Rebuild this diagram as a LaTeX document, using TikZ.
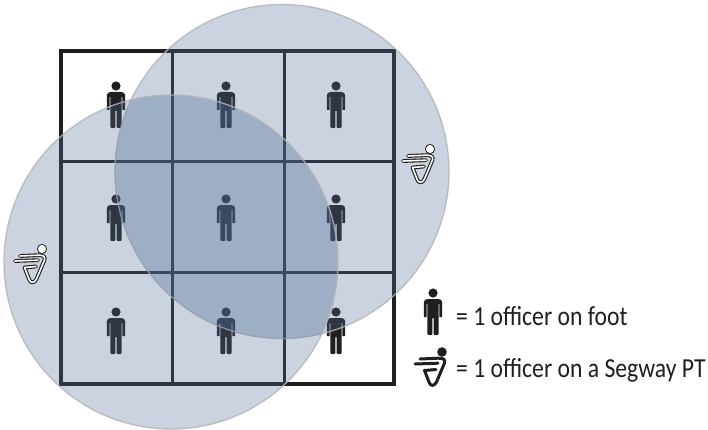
\documentclass[tikz,border=0pt]{standalone}
\usepackage{fontspec}
\setmainfont[FakeStretch=0.86]{Carlito}
\definecolor{ink}{RGB}{32,30,31}
\definecolor{zonefill}{RGB}{80,110,150}
\definecolor{zoneedge}{RGB}{178,180,184}
\definecolor{overlaptone}{RGB}{70,110,170}
\tikzset{
  gridline/.style={draw=ink,line width=3pt},
  zone/.style={circle,minimum size=334pt,inner sep=0pt,fill=zonefill,fill opacity=0.3,draw=zoneedge,draw opacity=0.85,line width=1.3pt},
  legendtext/.style={anchor=base west,inner sep=0pt,text=ink,font=\fontsize{27.5pt}{30pt}\selectfont},
  person/.pic={
    \fill[ink] (0,0) circle (4.6);
    \fill[ink] (-9.2,24) -- (-9.2,9.5) .. controls (-9.2,7) and (-7.5,6) .. (-5,6) -- (5,6) .. controls (7.5,6) and (9.2,7) .. (9.2,9.5) -- (9.2,24) -- (6.4,24) -- (6.4,11) -- (5.6,11) -- (5.6,41) .. controls (5.6,42.5) and (1,42.5) .. (0.6,41) -- (0.6,25) -- (-0.6,25) -- (-0.6,41) .. controls (-1,42.5) and (-5.6,42.5) .. (-5.6,41) -- (-5.6,11) -- (-6.4,11) -- (-6.4,24) -- cycle;
  },
  segpaths/.pic={
    \draw[line cap=round,line join=round,line width=\pgfkeysvalueof{/tikz/segw}pt,draw=\pgfkeysvalueof{/tikz/segc}]
      (-22,7) -- (-4,6.2) .. controls (1.5,6) and (3.5,7.5) .. (2.5,11) -- (-5.5,30) .. controls (-7.5,34.5) and (-12,34.5) .. (-13,30) -- (-17.5,18.5) -- (-6,17.5);
    \draw[line cap=round,line width=\pgfkeysvalueof{/tikz/segw}pt,draw=\pgfkeysvalueof{/tikz/segc}]
      (-27,12) -- (-4,11.2);
  },
  segw/.initial=3.2, segc/.initial=ink,
  segwayring/.pic={
    \pic[segw=3.8,segc=ink] {segpaths};
    \pic[segw=1.6,segc=white] {segpaths};
    \fill[white,draw=ink,line width=0.8pt] (0,0) circle (4.6);
  },
  segwaysolid/.pic={
    \pic[segw=3,segc=ink] {segpaths};
    \fill[ink] (0,0) circle (4.8);
  }
}
\begin{document}
\begin{tikzpicture}[x=1pt,y=-1pt]
\useasboundingbox (0,0) rectangle (708,430);
\fill[white] (0,0) rectangle (708,430);
% grid
\coordinate (g00) at (61,51);
\coordinate (g33) at (394,384);
\draw[gridline,line width=3.2pt] (g00) rectangle (g33);
\draw[gridline] (172,51) -- (172,384);
\draw[gridline] (284,51) -- (284,384);
\draw[gridline] (61,162) -- (394,162);
\draw[gridline] (61,272) -- (394,272);
% officers
\foreach \x in {116,226,336}
  \foreach \y in {86,199,312}
    \pic at (\x,\y) {person};
% patrol zones
\node[zone] (zoneA) at (282,171.5) {};
\node[zone] (zoneB) at (171,262) {};
% deeper tone where the zones overlap
\begin{scope}
  \clip (282,171.5) circle (166);
  \fill[overlaptone,opacity=0.08] (171,262) circle (166);
\end{scope}
% segways
\pic at (430,149) {segwayring};
\pic at (42,249) {segwayring};
% legend
\pic at (433,293) {person};
\pic at (442,352) {segwaysolid};
\node[legendtext] (footlabel) at (456,325) {= 1 officer on foot};
\node[legendtext] (segwaylabel) at (456,377) {= 1 officer on a Segway PT};
\end{tikzpicture}
\end{document}
